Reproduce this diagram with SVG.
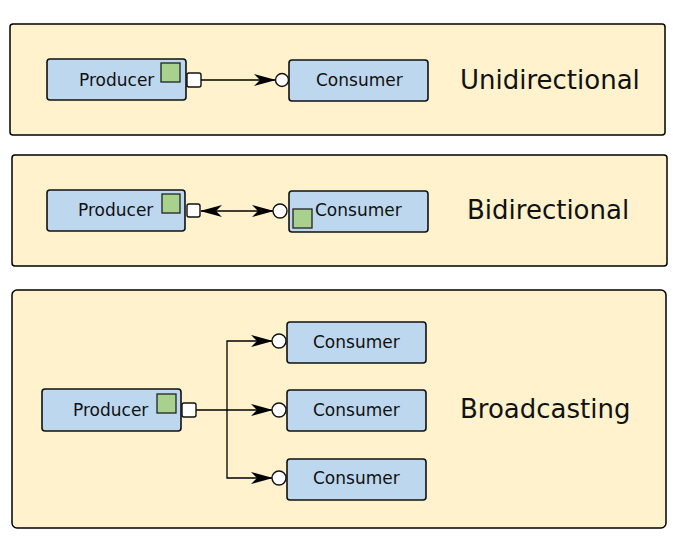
<svg xmlns="http://www.w3.org/2000/svg" width="673" height="557" viewBox="0 0 673 557">
<defs>
<style>
.panel{fill:#fff2cc;stroke:#000;stroke-width:1.5}
.node{fill:#bdd7ee;stroke:#111;stroke-width:1.6}
.sq{fill:#a9d18e;stroke:#222;stroke-width:1.3}
.port{fill:#fff;stroke:#111;stroke-width:1.4}
.lbl{font-family:"DejaVu Sans",Verdana,sans-serif;font-size:17px;fill:#111}
.title{font-family:"DejaVu Sans",Verdana,sans-serif;font-size:26px;fill:#111}
.conn{fill:none;stroke:#000;stroke-width:1.3}
</style>
<marker id="ah" markerUnits="userSpaceOnUse" markerWidth="24" markerHeight="14" viewBox="0 -7 22 14" refX="21" refY="0" orient="auto-start-reverse">
<path d="M0,-6 L22,0 L0,6 L6,0 Z" fill="#000"/>
</marker>
</defs>
<rect width="673" height="557" fill="#fff"/>
<g id="panel-unidirectional">
<rect class="panel" x="10" y="24" width="655" height="111" rx="3"/>
<text class="title" x="460" y="89">Unidirectional</text>
</g>
<g id="panel-bidirectional">
<rect class="panel" x="12" y="155" width="655" height="111" rx="3"/>
<text class="title" x="467" y="219">Bidirectional</text>
</g>
<g id="panel-broadcasting">
<rect class="panel" x="12" y="290" width="654" height="238" rx="5"/>
<text class="title" x="460" y="418">Broadcasting</text>
</g>
<g id="connectors">
<path class="conn" d="M201,80 H275" marker-end="url(#ah)"/>
<path class="conn" d="M201,211 H273" marker-start="url(#ah)" marker-end="url(#ah)"/>
<path class="conn" d="M196,410 H272" marker-end="url(#ah)"/>
<path class="conn" d="M227,410 V341 H272" marker-end="url(#ah)"/>
<path class="conn" d="M227,410 V478 H272" marker-end="url(#ah)"/>
</g>
<g id="producer-1">
<rect class="node" x="47" y="59" width="139" height="41" rx="3"/>
<rect class="sq" x="161" y="63" width="19" height="19"/>
<rect class="port" x="187" y="73" width="14" height="14" rx="2"/>
<text class="lbl" x="79" y="86">Producer</text>
</g>
<g id="consumer-1">
<rect class="node" x="289" y="60" width="139" height="41" rx="3"/>
<circle class="port" cx="282" cy="80" r="6.5"/>
<text class="lbl" x="316" y="86">Consumer</text>
</g>
<g id="producer-2">
<rect class="node" x="47" y="190" width="138" height="41" rx="3"/>
<rect class="sq" x="162" y="194" width="18" height="19"/>
<rect class="port" x="187" y="204" width="13" height="13" rx="2"/>
<text class="lbl" x="78" y="216">Producer</text>
</g>
<g id="consumer-2">
<rect class="node" x="289" y="191" width="139" height="41" rx="3"/>
<circle class="port" cx="280" cy="211" r="7"/>
<rect class="sq" x="293" y="209" width="19" height="19"/>
<text class="lbl" x="315" y="216">Consumer</text>
</g>
<g id="producer-3">
<rect class="node" x="42" y="389" width="139" height="42" rx="3"/>
<rect class="sq" x="157" y="394" width="19" height="19"/>
<rect class="port" x="182" y="403" width="14" height="14" rx="2"/>
<text class="lbl" x="73" y="416">Producer</text>
</g>
<g id="consumer-3a">
<rect class="node" x="287" y="322" width="139" height="41" rx="3"/>
<circle class="port" cx="279" cy="341" r="7"/>
<text class="lbl" x="313" y="348">Consumer</text>
</g>
<g id="consumer-3b">
<rect class="node" x="287" y="390" width="139" height="41" rx="3"/>
<circle class="port" cx="279" cy="410" r="7"/>
<text class="lbl" x="313" y="416">Consumer</text>
</g>
<g id="consumer-3c">
<rect class="node" x="287" y="459" width="139" height="41" rx="3"/>
<circle class="port" cx="279" cy="478" r="7"/>
<text class="lbl" x="313" y="484">Consumer</text>
</g>
</svg>
